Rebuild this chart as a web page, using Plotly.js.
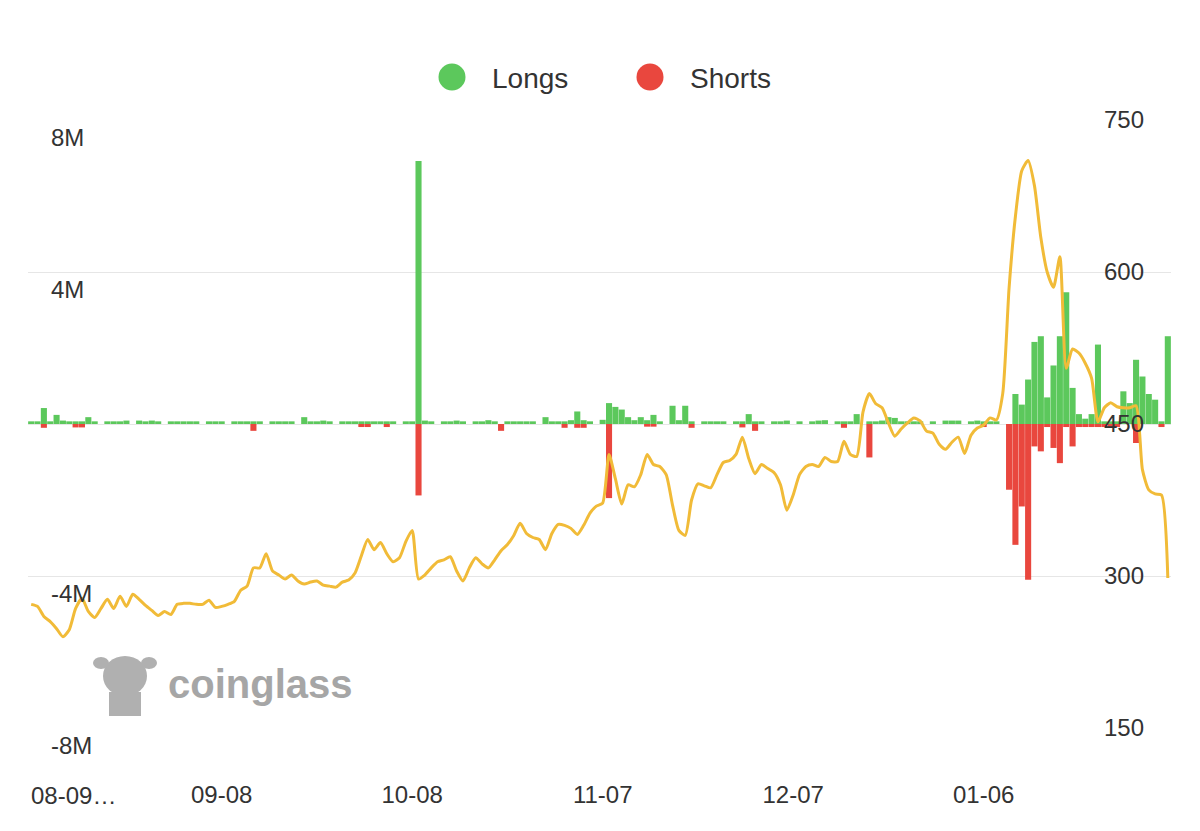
<!DOCTYPE html>
<html>
<head>
<meta charset="utf-8">
<script src="https://cdn.plot.ly/plotly-3.0.1.min.js"></script>
<style>
  html, body { margin: 0; padding: 0; background: #ffffff; }
  #chart { width: 1200px; height: 831px; }
</style>
</head>
<body>
<div id="chart"></div>
<script>
// ---- data (daily, first day 2024-08-09) ----
const startDate = '2024-08-09';
const tickDates = ['2024-08-09', '2024-09-08', '2024-10-08', '2024-11-07', '2024-12-07', '2025-01-06'];
const tickLabels = ['08-09…', '09-08', '10-08', '11-07', '12-07', '01-06'];

// liquidations, millions USD
const longs = [
  0.07,0.07,0.42,0.07,0.24,0.09,0.07,0.07,0.07,0.18,
  0.07,0,0.07,0.07,0.07,0.09,0,0.09,0.07,0.09,
  0.07,0,0.07,0.07,0.07,0.07,0.07,0,0.07,0.07,
  0.07,0,0.07,0.07,0.07,0.07,0.07,0,0.07,0.07,
  0.07,0.07,0,0.18,0.07,0.07,0.09,0.07,0,0.07,
  0.07,0.07,0.07,0.07,0.07,0.07,0.07,0.07,0,0.07,
  0.07,6.92,0.09,0.07,0,0.07,0.07,0.09,0.07,0,
  0.07,0.07,0.10,0.07,0,0.07,0.07,0.07,0.07,0.07,
  0,0.18,0.07,0.07,0.07,0.10,0.33,0.10,0.07,0,
  0.11,0.55,0.45,0.38,0.18,0.10,0.18,0.10,0.24,0.07,
  0,0.48,0.10,0.48,0.07,0,0.07,0.07,0.07,0.07,
  0,0.07,0.07,0.26,0.07,0.07,0,0.07,0.07,0.09,
  0,0.07,0,0.07,0.09,0.10,0,0.07,0.07,0.07,
  0.26,0,0.07,0.07,0.09,0.18,0.16,0.07,0.07,0.07,
  0.07,0,0.07,0,0.09,0.09,0.09,0,0.07,0.09,
  0.07,0.07,0.07,0,0,0.79,0.51,1.17,2.16,2.31,
  0.70,1.54,2.31,3.47,0.95,0.26,0.14,0.26,2.09,0.07,
  0.07,0.07,0.86,0.55,1.69,1.25,0.79,0.64,0.07,2.31
];
const shorts = [
  0,0,-0.10,0,0,0,0,-0.09,-0.09,0,
  0,0,0,0,0,0,0,0,0,0,
  0,0,0,0,0,0,0,0,0,0,
  0,0,0,0,0,-0.18,0,0,0,0,
  0,0,0,0,0,0,0,0,0,0,
  0,0,-0.08,-0.08,0,0,-0.08,0,0,0,
  0,-1.88,0,0,0,0,0,0,0,0,
  0,0,0,0,-0.18,0,0,0,0,0,
  0,0,0,0,-0.10,0,-0.10,-0.10,0,0,
  0,-1.95,0,0,0,0,0,-0.07,-0.07,0,
  0,0,0,0,-0.10,0,0,0,0,0,
  0,0,-0.09,0,-0.18,0,0,0,0,0,
  0,0,0,0,0,0,0,0,-0.10,0,
  0,0,-0.88,0,0,0,0,0,0,0,
  0,0,0,0,0,0,0,0,0,0,
  -0.08,0,0,0,-1.73,-3.18,-2.17,-4.10,-0.59,-0.72,
  -0.08,-0.63,-1.03,-0.08,-0.59,-0.08,-0.08,-0.08,-0.08,-0.08,
  -0.08,-0.08,0,0,-0.50,0,0,0,-0.08,0
];
// price
const price = [
  272,270,260,255,248,240,247,268,278,265,
  259,268,277,268,280,270,282,277,271,266,
  261,265,262,272,273,273,272,272,276,269,
  270,272,275,286,290,308,308,322,305,301,
  297,301,295,292,294,295,291,290,289,294,
  296,303,320,336,326,333,322,314,318,334,
  345,297,301,308,314,316,319,305,295,308,
  318,312,308,316,325,331,340,352,342,338,
  336,326,342,351,350,347,341,350,362,369,
  372,420,396,371,390,388,400,420,410,408,
  400,370,345,340,375,391,389,387,400,412,
  414,420,437,416,401,410,406,402,390,365,
  380,400,408,410,408,417,413,413,433,420,
  418,462,480,470,466,451,438,445,451,456,
  453,443,441,430,425,432,437,421,439,446,
  449,456,454,480,584,655,700,710,685,634,
  600,585,615,505,524,520,510,495,452,466,
  471,467,466,466,468,405,385,381,380,298
];
const leftTickVals = [-8, -4, 4, 8];
const leftTickText = ['-8M', '-4M', '4M', '8M'];
const rightTickVals = [150, 300, 450, 600, 750];
const seriesNames = ['Longs', 'Shorts'];

// ---- style ----
const GREEN = '#5cc85c';
const RED = '#e9473e';
const GOLD = '#f1bb38';
const TXT = '#333333';
const DAY = 86400000;
const FONT = 'Liberation Sans, Arial, Helvetica, sans-serif';

// first label is drawn left-aligned at its date (as in the reference), the rest centred
const shownLabels = tickLabels.map((t, i) => i === 0 ? '' : t);

const traces = [
  { type: 'bar', name: seriesNames[0], x0: startDate, dx: DAY, y: longs,
    marker: { color: GREEN, line: { width: 0 } }, yaxis: 'y', showlegend: false, hoverinfo: 'skip' },
  { type: 'bar', name: seriesNames[1], x0: startDate, dx: DAY, y: shorts,
    marker: { color: RED, line: { width: 0 } }, yaxis: 'y', showlegend: false, hoverinfo: 'skip' },
  { type: 'scatter', mode: 'lines', name: 'Price', x0: startDate, dx: DAY, y: price,
    line: { color: GOLD, width: 3, shape: 'spline', smoothing: 0.6 },
    yaxis: 'y2', showlegend: false, hoverinfo: 'skip' }
];

// plot area in pixels: x 28..1171, y 120..728
const L = 28, R = 29, T = 120, B = 103, W = 1200 - L - R, H = 831 - T - B;
const px = v => (v - L) / W;
const py = v => (831 - B - v) / H;

const MASCOT = '#b0b0b0';
const shapes = [
  { type: 'circle', xref: 'paper', yref: 'paper', xsizemode: 'pixel', ysizemode: 'pixel',
    xanchor: px(452), yanchor: py(77), x0: -13.5, x1: 13.5, y0: -13.5, y1: 13.5,
    fillcolor: GREEN, line: { width: 0 } },
  { type: 'circle', xref: 'paper', yref: 'paper', xsizemode: 'pixel', ysizemode: 'pixel',
    xanchor: px(650), yanchor: py(77), x0: -13.5, x1: 13.5, y0: -13.5, y1: 13.5,
    fillcolor: RED, line: { width: 0 } },
  // watermark mascot
  { type: 'circle', xref: 'paper', yref: 'paper', xsizemode: 'pixel', ysizemode: 'pixel',
    xanchor: px(125), yanchor: py(676), x0: -22, x1: 22, y0: -20, y1: 20,
    fillcolor: MASCOT, line: { width: 0 }, layer: 'below' },
  { type: 'circle', xref: 'paper', yref: 'paper', xsizemode: 'pixel', ysizemode: 'pixel',
    xanchor: px(101), yanchor: py(663), x0: -8, x1: 8, y0: -6, y1: 6,
    fillcolor: MASCOT, line: { width: 0 }, layer: 'below' },
  { type: 'circle', xref: 'paper', yref: 'paper', xsizemode: 'pixel', ysizemode: 'pixel',
    xanchor: px(149), yanchor: py(663), x0: -8, x1: 8, y0: -6, y1: 6,
    fillcolor: MASCOT, line: { width: 0 }, layer: 'below' },
  { type: 'rect', xref: 'paper', yref: 'paper', xsizemode: 'pixel', ysizemode: 'pixel',
    xanchor: px(125), yanchor: py(700), x0: -16, x1: 16, y0: -16, y1: 8,
    fillcolor: MASCOT, line: { width: 0 }, layer: 'below' }
];

const annotations = [
  { xref: 'paper', yref: 'paper', x: px(490), y: py(78), xanchor: 'left', yanchor: 'middle',
    text: seriesNames[0], showarrow: false, font: { family: FONT, size: 28, color: TXT } },
  { xref: 'paper', yref: 'paper', x: px(688), y: py(78), xanchor: 'left', yanchor: 'middle',
    text: seriesNames[1], showarrow: false, font: { family: FONT, size: 28, color: TXT } },
  { xref: 'paper', yref: 'paper', x: px(166), y: py(684), xanchor: 'left', yanchor: 'middle',
    text: '<b>coinglass</b>', showarrow: false, font: { family: FONT, size: 40, color: '#a6a6a6' } },
  // first category label (left-aligned at the axis start)
  { xref: 'x', yref: 'paper', x: tickDates[0], y: py(795), xanchor: 'left', yanchor: 'middle',
    xshift: -2, text: tickLabels[0], showarrow: false, font: { family: FONT, size: 24, color: TXT } }
];

const layout = {
  width: 1200, height: 831,
  margin: { l: L, r: R, t: T, b: B, pad: 0 },
  paper_bgcolor: '#ffffff', plot_bgcolor: '#ffffff',
  font: { family: FONT, color: TXT },
  barmode: 'relative', bargap: 0.04,
  showlegend: false, hovermode: false,
  xaxis: {
    type: 'date', range: ['2024-08-08 12:00', '2025-02-04 12:00'],
    tickmode: 'array', tickvals: tickDates, ticktext: shownLabels,
    showgrid: false, zeroline: false, showline: false, ticks: '',
    tickfont: { family: FONT, size: 24, color: TXT },
    ticklabelstandoff: 50, ticklabeloverflow: 'allow', fixedrange: true
  },
  yaxis: {
    range: [-8, 8], tickmode: 'array', tickvals: leftTickVals, ticktext: leftTickText,
    showgrid: false, zeroline: false, showline: false, ticks: '',
    ticklabelposition: 'inside', ticklabelshift: 18, ticklabelstandoff: 20,
    ticklabeloverflow: 'allow',
    tickfont: { family: FONT, size: 24, color: TXT }, fixedrange: true
  },
  yaxis2: {
    overlaying: 'y', side: 'right', range: [150, 750],
    tickmode: 'array', tickvals: rightTickVals,
    showgrid: true, gridcolor: '#e6e6e6', gridwidth: 1,
    zeroline: false, showline: false, ticks: '',
    ticklabelposition: 'inside', ticklabelstandoff: 24, ticklabeloverflow: 'allow',
    tickfont: { family: FONT, size: 24, color: TXT }, fixedrange: true
  },
  shapes: shapes,
  annotations: annotations
};

Plotly.newPlot('chart', traces, layout, { displayModeBar: false, staticPlot: true });
</script>
</body>
</html>
